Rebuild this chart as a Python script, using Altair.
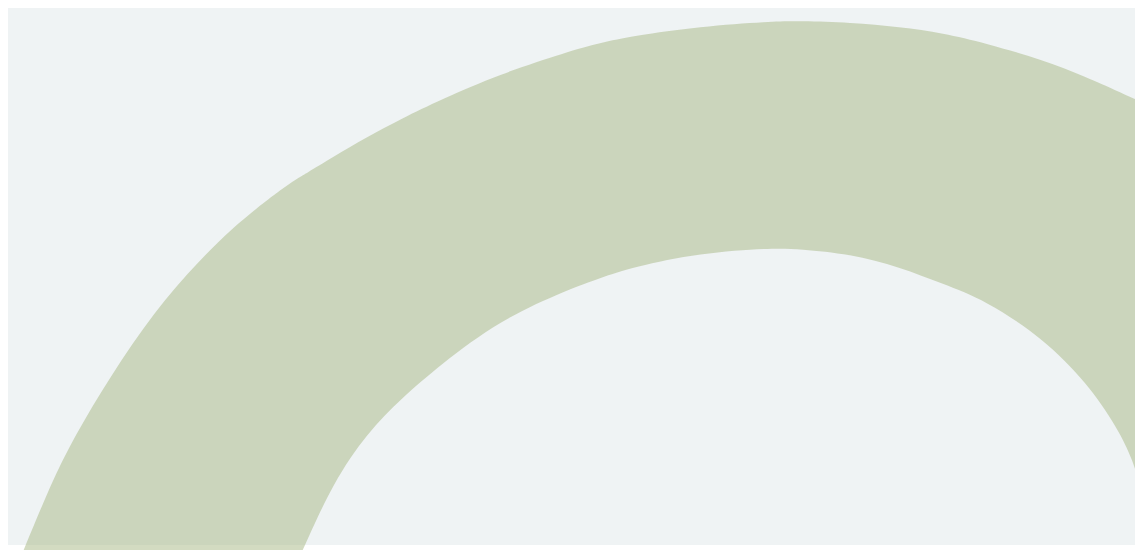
import altair as alt
import pandas as pd

# Positions along the horizontal axis (screen columns)
x_vals = [11, 25, 45, 67, 100, 143, 187, 233, 270, 280, 290, 300, 305, 333, 367,
          402, 440, 500, 567, 600, 633, 700, 770, 800, 850, 900, 943, 985, 1043,
          1087, 1117, 1133, 1143, 1152]

# Outer edge of the arch (screen rows)
outer_rows = [580, 547, 498, 450, 393, 327, 273, 227, 198, 190.5, 183.5, 177, 174, 157, 137,
              118.5, 100, 74, 52, 43, 36, 26.5, 21.5, 21, 22.5, 27, 33, 43, 60,
              77.5, 91, 98, 103, 107.5]

# Inner edge of the arch (screen rows)
inner_rows = [620, 620, 620, 620, 620, 620, 620, 620, 620, 600, 578, 556, 545, 483, 433,
              398, 365, 320, 290, 278, 267, 253, 248, 249, 254, 267, 284, 300, 338,
              383, 427, 460, 495, 530]

df = pd.DataFrame({
    "x": x_vals,
    "outer": [550 - v for v in outer_rows],
    "inner": [550 - v for v in inner_rows],
})

chart = alt.Chart(df).mark_area(
    color="#a7b784",
    opacity=0.5,
    interpolate="basis",
    clip=False,
).encode(
    x=alt.X("x:Q", scale=alt.Scale(domain=[8, 1135], nice=False, zero=False), axis=None),
    y=alt.Y("outer:Q", scale=alt.Scale(domain=[5, 542], nice=False, zero=False), axis=None),
    y2="inner:Q",
).properties(
    width=1127,
    height=537,
    autosize=alt.AutoSizeParams(type="none"),
    padding={"left": 0, "top": 0, "right": 0, "bottom": 5},
    background="#ffffff",
).configure_view(
    fill="#eff3f4",
    strokeWidth=0,
)

chart.save("out.html", embed_options={"renderer": "svg", "actions": False})
